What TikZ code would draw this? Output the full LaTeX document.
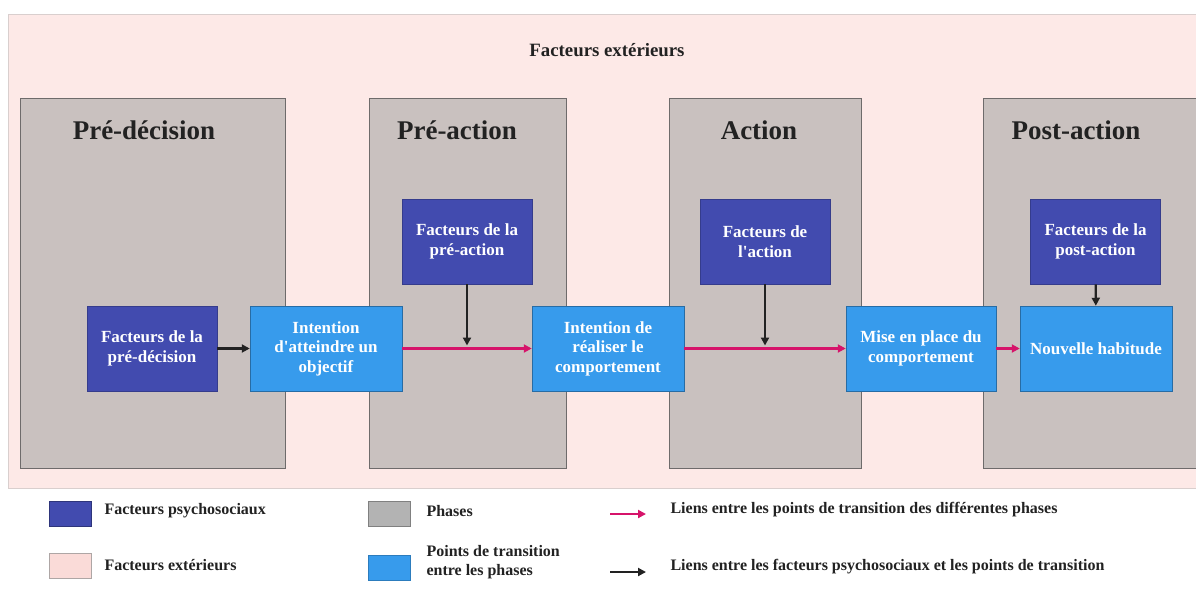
\documentclass[tikz,border=0pt]{standalone}
\usepackage{fontspec}
\setmainfont{Liberation Serif}
\usepackage{xcolor}
\usetikzlibrary{arrows.meta}

\definecolor{extbg}{HTML}{FDE9E7}
\definecolor{extline}{HTML}{D9CFCE}
\definecolor{phasebg}{HTML}{C9C1BF}
\definecolor{phaseline}{HTML}{6E6B6B}
\definecolor{psycho}{HTML}{424BAF}
\definecolor{transit}{HTML}{379BEC}
\definecolor{linkpink}{HTML}{D6136A}
\definecolor{legendgray}{HTML}{B3B3B3}
\definecolor{legendpink}{HTML}{FADBD8}
\definecolor{textdark}{HTML}{222222}

\begin{document}
\begin{tikzpicture}[
    x=1pt, y=-1pt,
    phase/.style={
        rectangle,
        draw=phaseline,
        fill=phasebg,
        line width=0.8pt,
        minimum height=370pt,
        inner sep=0pt
    },
    phasetitle/.style={
        text=textdark,
        font=\fontsize{27}{30}\selectfont\bfseries
    },
    factor/.style={
        rectangle,
        draw=psycho!80!black,
        fill=psycho,
        line width=0.5pt,
        minimum width=130pt,
        minimum height=85pt,
        inner sep=0pt,
        align=center,
        text=white,
        font=\fontsize{17}{19.5}\selectfont\bfseries
    },
    transition/.style={
        rectangle,
        draw=transit!70!black,
        fill=transit,
        line width=0.5pt,
        minimum width=152pt,
        minimum height=85pt,
        inner sep=0pt,
        align=center,
        text=white,
        font=\fontsize{17}{19.5}\selectfont\bfseries
    },
    swatch/.style={
        rectangle,
        line width=0.6pt,
        minimum width=42pt,
        minimum height=25pt,
        inner sep=0pt
    },
    legendtext/.style={
        anchor=west,
        align=left,
        text=textdark,
        font=\fontsize{16}{19.5}\selectfont\bfseries
    },
    pinkarrow/.style={-{Triangle[length=8pt,width=8pt]}, line width=2.2pt, linkpink},
    blackarrow/.style={-{Triangle[length=8pt,width=8pt]}, line width=2.2pt, textdark}
]

\useasboundingbox[fill=white] (0,0) rectangle (1196,592);

% External factors background
\node[rectangle, draw=extline, fill=extbg, line width=0.8pt,
      minimum width=1200pt, minimum height=474pt, inner sep=0pt] (ext) at (608,251) {};
\node[font=\fontsize{18.8}{22}\selectfont\bfseries, text=textdark] (exttitle) at (607,50) {Facteurs extérieurs};

% Phases
\node[phase, minimum width=265pt] (predec) at (152.5,283) {};
\node[phase, minimum width=197pt] (preact) at (467.5,283) {};
\node[phase, minimum width=192pt] (act) at (765,283) {};
\node[phase, minimum width=216pt] (postact) at (1091,283) {};

\node[phasetitle] (predect) at (144,130) {Pré-décision};
\node[phasetitle] (preactt) at (457,130) {Pré-action};
\node[phasetitle] (actt) at (759,130) {Action};
\node[phasetitle] (postactt) at (1076,130) {Post-action};

% Psychosocial factors
\node[factor] (fpredec) at (152,348.5) {Facteurs de la\\pré-décision};
\node[factor] (fpreact) at (467,241.5) {Facteurs de la\\pré-action};
\node[factor] (fact) at (765,241.5) {Facteurs de\\l\textquotesingle action};
\node[factor] (fpostact) at (1095.5,241.5) {Facteurs de la\\post-action};

% Transition points
\node[transition] (goal) at (326,348.5) {Intention\\d\textquotesingle atteindre un\\objectif};
\node[transition] (intent) at (608,348.5) {Intention de\\réaliser le\\comportement};
\node[transition, minimum width=150pt] (setup) at (921,348.5) {Mise en place du\\comportement};
\node[transition] (habit) at (1096,348.5) {Nouvelle habitude};

% Links
\draw[blackarrow] (fpredec) -- (goal);
\draw[pinkarrow] (goal) -- (intent);
\draw[pinkarrow] (intent) -- (setup);
\draw[pinkarrow] (setup) -- (habit);
\draw[blackarrow, shorten >=3pt] (fpreact.south) -- (fpreact.south |- goal);
\draw[blackarrow, shorten >=3pt] (fact.south) -- (fact.south |- intent);
\draw[blackarrow] (fpostact) -- (habit);

% Legend
\node[swatch, draw=psycho!70!black, fill=psycho] (lpsycho) at (70,513.5) {};
\node[legendtext] (lpsychot) at (101,511) {Facteurs psychosociaux};
\node[swatch, draw=extline!80!black, fill=legendpink] (lext) at (70,565.5) {};
\node[legendtext] (lextt) at (101,565) {Facteurs extérieurs};
\node[swatch, draw=gray, fill=legendgray] (lphase) at (389.5,514) {};
\node[legendtext] (lphaset) at (423,511) {Phases};
\node[swatch, draw=transit!80!black, fill=transit] (ltrans) at (389.5,567.5) {};
\node[legendtext] (ltranst) at (423,562) {Points de transition\\entre les phases};

\coordinate (lpinka) at (610,514);
\coordinate (lpinkb) at (646,514);
\coordinate (lblacka) at (610,572);
\coordinate (lblackb) at (646,572);
\draw[pinkarrow] (lpinka) -- (lpinkb);
\draw[blackarrow] (lblacka) -- (lblackb);
\node[legendtext] (lpinkt) at (667,510) {Liens entre les points de transition des différentes phases};
\node[legendtext] (lblackt) at (667,567) {Liens entre les facteurs psychosociaux et les points de transition};

\end{tikzpicture}
\end{document}
